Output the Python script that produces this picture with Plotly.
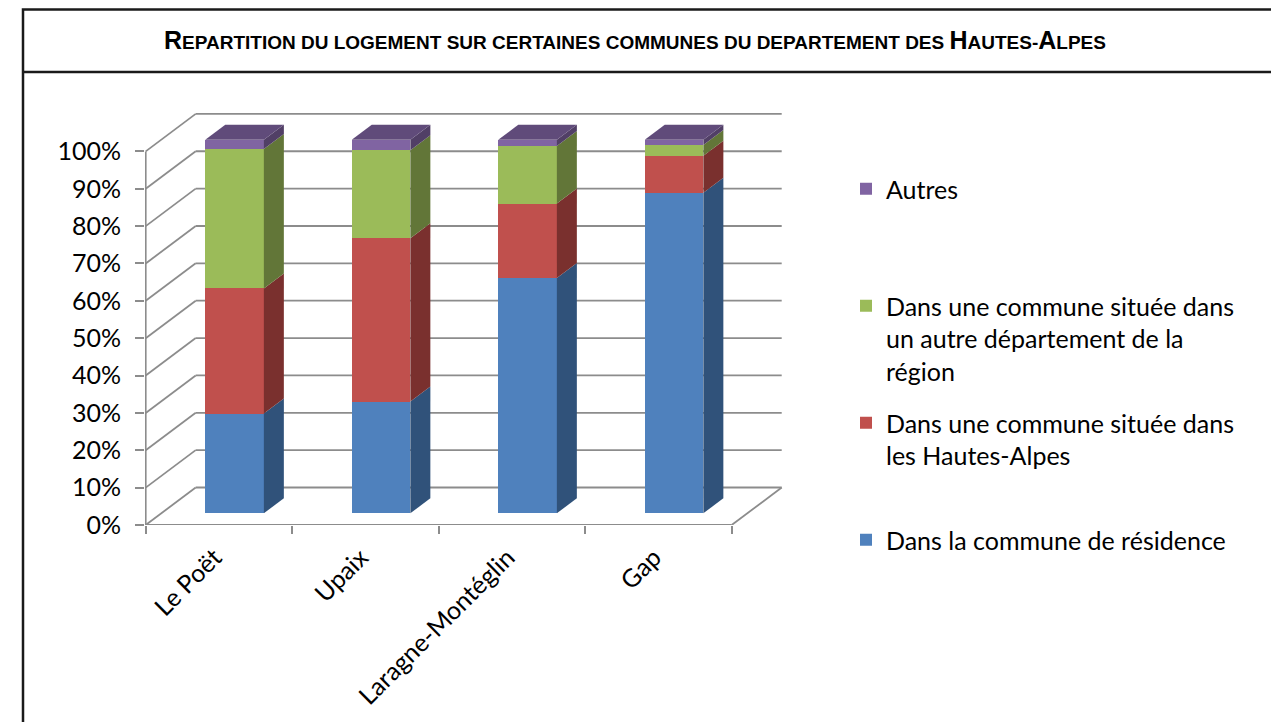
import plotly.graph_objects as go

# ---- data -------------------------------------------------------------
communes = ["Le Poët", "Upaix", "Laragne-Montéglin", "Gap"]
residence = [26.7, 29.9, 63.0, 85.8]       # Dans la commune de résidence
hautes_alpes = [33.5, 43.7, 19.9, 9.9]     # Dans une commune située dans les Hautes-Alpes
autre_dept = [37.3, 23.6, 15.4, 2.9]       # ... dans un autre département de la région
autres = [2.5, 2.8, 1.7, 1.4]              # Autres
pct_ticks = list(range(0, 101, 10))

series = [
    ("Dans la commune de résidence", residence, "#4F81BD", "#30527A"),
    ("Dans une commune située dans<br>les Hautes-Alpes", hautes_alpes, "#C0504D", "#7A302E"),
    ("Dans une commune située dans<br>un autre département de la<br>région", autre_dept, "#9BBB59", "#627638"),
    ("Autres", autres, "#8064A2", "#513F66"),
]
TOP_FACE = "#604B7A"

# ---- page / plot-area geometry ---------------------------------------
W, H = 1271, 722
ML, MT, MR, MB = 145, 100, 481, 197
CAT_PX = 146.5          # pixels per category
PCT_PX = 3.736          # pixels per percent
X0_PX, Y0_PX = 234.55, 513.3   # pixel position of x=0 / y=0 on the bar plane
xrange = [(ML - X0_PX) / CAT_PX, (W - MR - X0_PX) / CAT_PX]
yrange = [(Y0_PX - (H - MB)) / PCT_PX, (Y0_PX - MT) / PCT_PX]

# oblique depth of the 3-D box (in data units) and bar depth placement
DX, DY = 50 / CAT_PX, 37.5 / PCT_PX
ZB, ZD = 0.312, 0.4     # bar front depth, bar thickness (fractions of the box depth)
BAR_W = 0.4
GRID = "#8C8C8C"


def proj(xw, v, z):
    """Oblique projection of (category x, value, depth) onto the bar plane axes."""
    return xw + (z - ZB) * DX, v + (z - ZB) * DY


fig = go.Figure()

# ---- walls, floor and gridlines --------------------------------------
shapes = []
x_left, x_right = -0.5, len(communes) - 0.5


def seg(p, q, width=1.8):
    shapes.append(dict(type="line", xref="x", yref="y", x0=p[0], y0=p[1], x1=q[0], y1=q[1],
                       line=dict(color=GRID, width=width), layer="below"))


for v in pct_ticks:
    seg(proj(x_left, v, 0), proj(x_left, v, 1))
    seg(proj(x_left, v, 1), proj(x_right, v, 1))
seg(proj(x_left, 0, 0), proj(x_left, 100, 0))
seg(proj(x_left, 0, 0), proj(x_right, 0, 0))
seg(proj(x_right, 0, 0), proj(x_right, 0, 1))

# ---- bars: front faces ------------------------------------------------
legend_ids = {"Autres": "legend", series[2][0]: "legend2", series[1][0]: "legend3", series[0][0]: "legend4"}
xs = list(range(len(communes)))
for name, vals, col, _ in series:
    fig.add_trace(go.Bar(x=xs, y=vals, width=BAR_W, name=name, marker=dict(color=col, line=dict(width=0)),
                         legend=legend_ids[name], hoverinfo="skip"))

# ---- bars: side and top faces ----------------------------------------
for i in xs:
    base = 0.0
    for name, vals, col, side in series:
        top = base + vals[i]
        xr = i + BAR_W / 2
        pts = [proj(xr, base, ZB), proj(xr, base, ZB + ZD), proj(xr, top, ZB + ZD), proj(xr, top, ZB)]
        fig.add_trace(go.Scatter(x=[p[0] for p in pts] + [pts[0][0]], y=[p[1] for p in pts] + [pts[0][1]],
                                 mode="lines", fill="toself", fillcolor=side, line=dict(width=0),
                                 showlegend=False, hoverinfo="skip"))
        base = top
    xl = i - BAR_W / 2
    pts = [proj(xl, base, ZB), proj(xr, base, ZB), proj(xr, base, ZB + ZD), proj(xl, base, ZB + ZD)]
    fig.add_trace(go.Scatter(x=[p[0] for p in pts] + [pts[0][0]], y=[p[1] for p in pts] + [pts[0][1]],
                             mode="lines", fill="toself", fillcolor=TOP_FACE, line=dict(width=0),
                             showlegend=False, hoverinfo="skip"))

# ---- frame around the chart and title band ---------------------------
def px_to_paper_x(px):
    return (px - ML) / (W - ML - MR)


def px_to_paper_y(py):
    return 1 - (py - MT) / (H - MT - MB)


frame_l, frame_t, title_sep = 23, 9.5, 72
shapes.append(dict(type="rect", xref="paper", yref="paper",
                   x0=px_to_paper_x(frame_l), x1=px_to_paper_x(W + 20),
                   y0=px_to_paper_y(H + 20), y1=px_to_paper_y(frame_t),
                   line=dict(color="#1A1A1A", width=2.5), layer="below"))
shapes.append(dict(type="line", xref="paper", yref="paper",
                   x0=px_to_paper_x(frame_l), x1=px_to_paper_x(W + 20),
                   y0=px_to_paper_y(title_sep), y1=px_to_paper_y(title_sep),
                   line=dict(color="#1A1A1A", width=2.5), layer="below"))

big = "<span style='font-size:25px'>{}</span>"
title_text = (big.format("R") + "EPARTITION DU LOGEMENT SUR CERTAINES COMMUNES DU DEPARTEMENT DES "
              + big.format("H") + "AUTES-" + big.format("A") + "LPES")

font_main = "Lato, Carlito, Calibri, sans-serif"
legend_font = dict(family=font_main, size=25, color="#000000")


def legend_box(py_top):
    return dict(x=846 / W, y=1 - py_top / H, xref="container", yref="container",
                xanchor="left", yanchor="top", bgcolor="rgba(0,0,0,0)", font=legend_font,
                valign="top", itemclick=False, itemdoubleclick=False)


fig.update_layout(
    width=W, height=H,
    margin=dict(l=ML, r=MR, t=MT, b=MB),
    paper_bgcolor="white", plot_bgcolor="white",
    barmode="stack", bargap=0,
    showlegend=True,
    shapes=shapes,
    annotations=[dict(text=title_text, xref="paper", yref="paper",
                      x=px_to_paper_x(635), y=px_to_paper_y(40), xanchor="center", yanchor="middle",
                      showarrow=False,
                      font=dict(family="Liberation Sans Narrow, Arial Narrow, Liberation Sans, sans-serif",
                                size=19, color="#000000", weight="bold"))],
    xaxis=dict(range=xrange, showgrid=False, zeroline=False, showline=False,
               tickmode="array", tickvals=[i - ZB * DX - 0.03 for i in xs], ticktext=communes,
               tickangle=-45, ticks="", ticklabelstandoff=12,
               tickfont=dict(family=font_main, size=25, color="#000000"),
               minor=dict(tickmode="array", tickvals=[i - 0.5 - ZB * DX for i in range(len(communes) + 1)],
                          ticks="outside", ticklen=8, tickwidth=2, tickcolor=GRID, showgrid=False),
               fixedrange=True),
    yaxis=dict(range=yrange, showgrid=False, zeroline=False, showline=False,
               tickmode="array", tickvals=[v - ZB * DY for v in pct_ticks],
               ticktext=[f"{v}%" for v in pct_ticks],
               ticks="outside", ticklen=9, tickwidth=2, tickcolor=GRID, ticklabelstandoff=9,
               tickfont=dict(family=font_main, size=25, color="#000000"), fixedrange=True),
    legend=legend_box(166),
    legend2=legend_box(283),
    legend3=legend_box(400),
    legend4=legend_box(517),
)

fig.write_html("out.html")
